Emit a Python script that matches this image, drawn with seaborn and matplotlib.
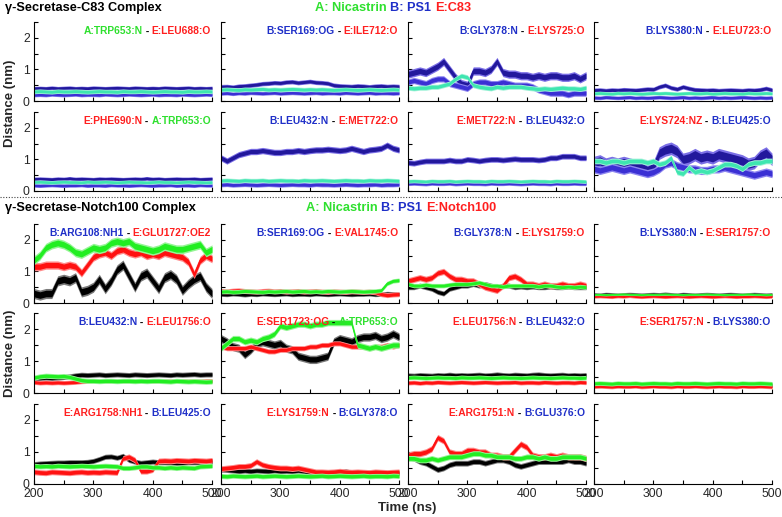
import numpy as np
import pandas as pd
import matplotlib
matplotlib.use("Agg")
import matplotlib.pyplot as plt
import seaborn as sns
from matplotlib.offsetbox import TextArea, HPacker, AnchoredOffsetbox
from matplotlib.ticker import FixedLocator
from matplotlib.lines import Line2D

# ---------------- data (distance in nm, sampled every 10 ns from 200 to 500 ns) ----------------
TIME_START, TIME_END = 200, 500
x_ticks = [200, 300, 400, 500]
y_ticks = [0, 1, 2]

# gamma-Secretase-C83 complex: series = (navy, blue, teal)
c83_1_label = ["A:TRP653:N", "E:LEU688:O"]
c83_1_navy = [0.40,0.41,0.40,0.42,0.40,0.41,0.42,0.40,0.41,0.40, 0.42,0.41,0.40,0.41,0.42,0.41,0.40,0.42,0.41,0.40, 0.41,0.40,0.42,0.41,0.40,0.41,0.42,0.40,0.41,0.40,0.41]
c83_1_blue = [0.19,0.20,0.19,0.21,0.20,0.19,0.20,0.21,0.19,0.20, 0.20,0.19,0.21,0.20,0.19,0.20,0.21,0.20,0.19,0.20, 0.21,0.19,0.20,0.20,0.19,0.21,0.20,0.19,0.20,0.21,0.20]
c83_1_teal = [0.30,0.31,0.30,0.29,0.31,0.30,0.30,0.31,0.30,0.29, 0.30,0.31,0.30,0.30,0.29,0.31,0.30,0.30,0.31,0.30, 0.29,0.30,0.31,0.30,0.30,0.29,0.31,0.30,0.30,0.31,0.30]
c83_1_spread = [0.06, 0.06, 0.07]

c83_2_label = ["B:SER169:OG", "E:ILE712:O"]
c83_2_navy = [0.45,0.46,0.44,0.47,0.48,0.50,0.52,0.55,0.56,0.58, 0.57,0.60,0.61,0.58,0.60,0.62,0.59,0.58,0.56,0.50, 0.48,0.47,0.46,0.48,0.47,0.45,0.47,0.48,0.46,0.47,0.46]
c83_2_blue = [0.24,0.25,0.23,0.25,0.24,0.26,0.25,0.24,0.25,0.26, 0.24,0.25,0.26,0.25,0.24,0.25,0.26,0.24,0.25,0.25, 0.24,0.26,0.25,0.24,0.25,0.26,0.24,0.25,0.25,0.24,0.25]
c83_2_teal = [0.36,0.37,0.36,0.35,0.37,0.36,0.37,0.38,0.36,0.37, 0.36,0.37,0.38,0.37,0.36,0.37,0.36,0.37,0.36,0.35, 0.36,0.37,0.36,0.35,0.36,0.37,0.36,0.35,0.36,0.37,0.36]
c83_2_spread = [0.07, 0.06, 0.07]

c83_3_label = ["B:GLY378:N", "E:LYS725:O"]
c83_3_navy = [0.85,0.90,0.95,0.90,1.00,1.10,1.25,1.00,0.75,0.55, 0.50,0.95,0.95,0.90,1.00,1.25,0.90,0.85,0.85,0.80, 0.80,0.75,0.80,0.75,0.80,0.80,0.75,0.75,0.80,0.70,0.80]
c83_3_blue = [0.60,0.65,0.60,0.55,0.65,0.70,0.70,0.55,0.50,0.45, 0.40,0.55,0.60,0.60,0.55,0.55,0.60,0.55,0.50,0.50, 0.50,0.45,0.35,0.30,0.25,0.25,0.25,0.20,0.25,0.25,0.25]
c83_3_teal = [0.42,0.40,0.42,0.42,0.45,0.45,0.50,0.55,0.70,0.80, 0.75,0.50,0.45,0.42,0.40,0.45,0.42,0.45,0.45,0.45, 0.42,0.40,0.38,0.40,0.38,0.40,0.42,0.40,0.40,0.38,0.42]
c83_3_spread = [0.13, 0.10, 0.08]

c83_4_label = ["B:LYS380:N", "E:LEU723:O"]
c83_4_navy = [0.34,0.35,0.33,0.35,0.34,0.36,0.35,0.34,0.36,0.38, 0.37,0.45,0.50,0.42,0.38,0.45,0.40,0.36,0.35,0.34, 0.35,0.33,0.34,0.35,0.34,0.33,0.35,0.34,0.36,0.40,0.35]
c83_4_blue = [0.11,0.10,0.12,0.11,0.10,0.11,0.12,0.10,0.11,0.10, 0.11,0.12,0.11,0.10,0.11,0.12,0.10,0.11,0.10,0.11, 0.12,0.10,0.11,0.10,0.11,0.12,0.11,0.10,0.11,0.10,0.11]
c83_4_teal = [0.24,0.25,0.24,0.23,0.25,0.24,0.25,0.24,0.23,0.24, 0.25,0.24,0.25,0.24,0.23,0.24,0.25,0.24,0.24,0.25, 0.23,0.24,0.25,0.24,0.24,0.23,0.25,0.24,0.24,0.25,0.24]
c83_4_spread = [0.07, 0.06, 0.06]

c83_5_label = ["E:PHE690:N", "A:TRP653:O"]
c83_5_navy = [0.38,0.39,0.38,0.37,0.39,0.38,0.40,0.38,0.39,0.38, 0.37,0.39,0.38,0.39,0.38,0.37,0.38,0.39,0.38,0.40, 0.38,0.39,0.37,0.38,0.39,0.38,0.38,0.39,0.37,0.38,0.39]
c83_5_blue = [0.18,0.17,0.18,0.19,0.18,0.17,0.18,0.18,0.19,0.17, 0.18,0.18,0.17,0.19,0.18,0.18,0.17,0.18,0.19,0.18, 0.17,0.18,0.18,0.19,0.17,0.18,0.18,0.17,0.19,0.18,0.18]
c83_5_teal = [0.28,0.29,0.28,0.27,0.28,0.29,0.28,0.28,0.27,0.29, 0.28,0.28,0.29,0.28,0.27,0.28,0.29,0.28,0.28,0.27, 0.28,0.29,0.28,0.28,0.27,0.28,0.29,0.28,0.28,0.27,0.28]
c83_5_spread = [0.06, 0.06, 0.06]

c83_6_label = ["B:LEU432:N", "E:MET722:O"]
c83_6_navy = [1.05,0.95,1.05,1.15,1.20,1.25,1.25,1.28,1.25,1.22, 1.22,1.25,1.25,1.28,1.25,1.28,1.30,1.30,1.32,1.30, 1.28,1.30,1.35,1.30,1.25,1.30,1.32,1.35,1.45,1.35,1.30]
c83_6_blue = [0.20,0.21,0.19,0.20,0.21,0.20,0.19,0.20,0.21,0.20, 0.19,0.20,0.21,0.20,0.20,0.19,0.21,0.20,0.20,0.19, 0.20,0.21,0.20,0.19,0.20,0.20,0.21,0.19,0.20,0.20,0.21]
c83_6_teal = [0.33,0.34,0.33,0.32,0.34,0.33,0.33,0.34,0.32,0.33, 0.34,0.33,0.33,0.32,0.34,0.33,0.33,0.34,0.33,0.32, 0.33,0.34,0.33,0.33,0.32,0.34,0.33,0.33,0.34,0.33,0.32]
c83_6_spread = [0.10, 0.07, 0.07]

c83_7_label = ["E:MET722:N", "B:LEU432:O"]
c83_7_navy = [0.90,0.88,0.92,0.95,0.95,0.95,0.95,0.98,0.95,0.95, 1.00,0.98,0.95,0.98,1.00,1.00,0.98,1.00,1.02,1.00, 1.00,1.00,0.98,1.00,1.05,1.05,1.10,1.10,1.10,1.05,1.05]
c83_7_blue = [0.24,0.25,0.24,0.23,0.25,0.24,0.24,0.25,0.23,0.24, 0.25,0.24,0.24,0.23,0.25,0.24,0.24,0.25,0.24,0.23, 0.24,0.25,0.24,0.24,0.23,0.25,0.24,0.24,0.25,0.24,0.24]
c83_7_teal = [0.31,0.32,0.31,0.30,0.32,0.31,0.31,0.32,0.30,0.31, 0.32,0.31,0.31,0.30,0.32,0.31,0.31,0.32,0.31,0.30, 0.31,0.32,0.31,0.31,0.30,0.32,0.31,0.31,0.32,0.31,0.30]
c83_7_spread = [0.09, 0.07, 0.06]

c83_8_label = ["E:LYS724:NZ", "B:LEU425:O"]
c83_8_navy = [0.90,0.95,0.85,0.90,0.85,0.90,0.85,0.80,0.75,0.65, 0.75,1.20,1.30,1.35,1.25,1.00,1.05,1.15,1.05,1.10, 1.05,1.15,1.10,1.05,1.00,0.95,0.85,0.90,1.10,1.20,1.00]
c83_8_blue = [0.70,0.65,0.70,0.75,0.70,0.65,0.70,0.65,0.60,0.55, 0.60,0.70,0.85,0.90,0.80,0.75,0.70,0.70,0.65,0.65, 0.70,0.70,0.75,0.70,0.65,0.60,0.55,0.50,0.55,0.60,0.55]
c83_8_teal = [0.95,0.95,0.90,0.95,0.95,0.90,0.95,0.95,0.95,0.90, 0.95,0.85,0.90,1.05,0.60,0.55,0.75,0.60,0.65,0.60, 0.65,0.75,0.85,0.85,0.80,0.70,0.85,0.90,0.90,0.95,0.95]
c83_8_spread = [0.20, 0.13, 0.09]

# gamma-Secretase-Notch100 complex: series = (black, red, green)
n_1_label = ["B:ARG108:NH1", "E:GLU1727:OE2"]
n_1_black = [0.30,0.25,0.30,0.30,0.70,0.75,0.70,0.80,0.35,0.40, 0.50,0.75,0.45,0.70,1.05,1.20,0.85,0.50,0.85,0.95, 0.70,0.45,0.80,0.90,0.75,0.40,0.60,0.75,0.85,0.50,0.30]
n_1_red = [1.15,1.15,1.20,1.20,1.20,1.15,1.20,1.15,0.95,1.20, 1.45,1.55,1.60,1.50,1.65,1.70,1.60,1.55,1.60,1.50, 1.55,1.50,1.60,1.55,1.50,1.45,1.30,0.90,1.35,1.50,1.40]
n_1_green = [1.35,1.50,1.75,1.85,1.90,1.85,1.75,1.60,1.55,1.65, 1.75,1.70,1.75,1.90,1.95,1.90,1.95,1.80,1.75,1.70, 1.65,1.70,1.80,1.75,1.70,1.70,1.75,1.80,1.85,1.60,1.70]
n_1_spread = [0.16, 0.13, 0.14]

n_2_label = ["B:SER169:OG", "E:VAL1745:O"]
n_2_black = [0.28,0.27,0.29,0.28,0.26,0.28,0.27,0.29,0.28,0.27, 0.28,0.29,0.27,0.28,0.28,0.27,0.29,0.28,0.27,0.28, 0.29,0.28,0.27,0.28,0.28,0.29,0.27,0.28,0.30,0.29,0.28]
n_2_red = [0.38,0.37,0.39,0.40,0.38,0.37,0.36,0.38,0.39,0.37, 0.38,0.36,0.37,0.38,0.36,0.37,0.38,0.36,0.35,0.37, 0.36,0.35,0.37,0.36,0.35,0.36,0.34,0.28,0.25,0.27,0.28]
n_2_green = [0.36,0.37,0.35,0.36,0.38,0.37,0.36,0.35,0.37,0.36, 0.37,0.38,0.36,0.37,0.38,0.36,0.37,0.36,0.38,0.37, 0.36,0.37,0.38,0.37,0.36,0.37,0.38,0.40,0.62,0.70,0.72]
n_2_spread = [0.07, 0.08, 0.07]

n_3_label = ["B:GLY378:N", "E:LYS1759:O"]
n_3_black = [0.50,0.50,0.55,0.50,0.45,0.35,0.30,0.45,0.50,0.55, 0.55,0.60,0.55,0.60,0.55,0.50,0.55,0.55,0.50,0.52, 0.50,0.52,0.50,0.50,0.52,0.50,0.50,0.52,0.50,0.50,0.50]
n_3_red = [0.70,0.75,0.80,0.75,0.80,0.95,1.00,0.85,0.75,0.75, 0.70,0.70,0.60,0.50,0.45,0.40,0.55,0.80,0.85,0.75, 0.60,0.60,0.55,0.60,0.55,0.55,0.60,0.55,0.55,0.60,0.55]
n_3_green = [0.60,0.55,0.55,0.58,0.55,0.55,0.55,0.58,0.60,0.60, 0.60,0.62,0.65,0.60,0.55,0.55,0.52,0.55,0.55,0.55, 0.55,0.55,0.52,0.55,0.55,0.52,0.50,0.52,0.50,0.52,0.50]
n_3_spread = [0.08, 0.10, 0.07]

n_4_label = ["B:LYS380:N", "E:SER1757:O"]
n_4_black = [0.26,0.25,0.27,0.26,0.25,0.26,0.27,0.26,0.25,0.26, 0.27,0.26,0.28,0.26,0.25,0.27,0.26,0.25,0.26,0.27, 0.26,0.25,0.26,0.27,0.26,0.25,0.26,0.27,0.26,0.25,0.26]
n_4_red = [0.22,0.23,0.22,0.21,0.23,0.22,0.24,0.22,0.21,0.22, 0.23,0.22,0.21,0.22,0.23,0.22,0.21,0.22,0.23,0.22, 0.21,0.22,0.23,0.22,0.21,0.22,0.22,0.23,0.22,0.21,0.22]
n_4_green = [0.27,0.27,0.26,0.27,0.27,0.28,0.27,0.27,0.26,0.27, 0.27,0.27,0.28,0.27,0.27,0.26,0.27,0.27,0.27,0.28, 0.27,0.27,0.26,0.27,0.27,0.27,0.28,0.27,0.27,0.26,0.27]
n_4_spread = [0.07, 0.07, 0.035]

n_5_label = ["B:LEU432:N", "E:LEU1756:O"]
n_5_black = [0.46,0.47,0.48,0.47,0.48,0.50,0.52,0.55,0.57,0.56, 0.57,0.58,0.56,0.57,0.58,0.57,0.56,0.58,0.57,0.56, 0.57,0.58,0.57,0.56,0.58,0.57,0.58,0.59,0.57,0.58,0.58]
n_5_red = [0.34,0.32,0.33,0.32,0.33,0.32,0.33,0.34,0.36,0.37, 0.38,0.37,0.38,0.38,0.37,0.38,0.38,0.37,0.38,0.38, 0.37,0.38,0.38,0.37,0.38,0.38,0.37,0.38,0.37,0.38,0.38]
n_5_green = [0.48,0.52,0.54,0.53,0.52,0.53,0.50,0.45,0.40,0.38, 0.38,0.37,0.38,0.38,0.37,0.38,0.38,0.37,0.38,0.37, 0.38,0.38,0.37,0.36,0.38,0.37,0.36,0.37,0.36,0.35,0.36]
n_5_spread = [0.08, 0.07, 0.08]

n_6_label = ["E:SER1723:OG", "A:TRP653:O"]
n_6_black = [1.70,1.60,1.45,1.40,1.20,1.35,1.55,1.60,1.55,1.50, 1.55,1.40,1.35,1.15,1.10,1.05,1.05,1.10,1.15,1.60, 1.70,1.65,1.60,1.70,1.75,1.75,1.80,1.70,1.75,1.85,1.75]
n_6_red = [1.45,1.40,1.40,1.40,1.40,1.45,1.40,1.35,1.30,1.30, 1.35,1.35,1.40,1.40,1.40,1.45,1.45,1.50,1.50,1.55, 1.55,1.50,1.45,1.45,1.45,1.40,1.45,1.45,1.50,1.45,1.50]
n_6_green = [1.40,1.55,1.70,1.70,1.60,1.65,1.60,1.70,1.75,1.85, 2.10,2.05,2.10,2.15,2.15,2.10,2.15,2.15,2.20,2.20, 2.20,2.20,2.20,1.50,1.45,1.40,1.45,1.40,1.45,1.50,1.50]
n_6_spread = [0.13, 0.08, 0.10]

n_7_label = ["E:LEU1756:N", "B:LEU432:O"]
n_7_black = [0.55,0.54,0.56,0.55,0.54,0.56,0.55,0.57,0.55,0.56, 0.55,0.56,0.57,0.55,0.56,0.58,0.56,0.55,0.57,0.56, 0.55,0.57,0.58,0.56,0.55,0.56,0.57,0.55,0.56,0.55,0.56]
n_7_red = [0.32,0.33,0.31,0.33,0.32,0.34,0.33,0.32,0.33,0.34, 0.33,0.32,0.33,0.34,0.33,0.32,0.33,0.33,0.34,0.32, 0.33,0.33,0.32,0.34,0.33,0.32,0.33,0.33,0.32,0.34,0.33]
n_7_green = [0.48,0.49,0.48,0.47,0.48,0.49,0.48,0.48,0.47,0.49, 0.48,0.48,0.49,0.48,0.47,0.48,0.49,0.48,0.48,0.47, 0.48,0.49,0.48,0.48,0.47,0.48,0.49,0.48,0.48,0.47,0.48]
n_7_spread = [0.08, 0.07, 0.07]

n_8_label = ["E:SER1757:N", "B:LYS380:O"]
n_8_black = [0.24,0.23,0.25,0.24,0.23,0.24,0.25,0.24,0.23,0.24, 0.25,0.24,0.23,0.24,0.25,0.24,0.23,0.24,0.25,0.24, 0.23,0.24,0.25,0.24,0.23,0.24,0.24,0.25,0.23,0.24,0.24]
n_8_red = [0.21,0.22,0.21,0.20,0.22,0.21,0.21,0.22,0.20,0.21, 0.22,0.21,0.21,0.20,0.22,0.21,0.21,0.22,0.21,0.20, 0.21,0.22,0.21,0.21,0.20,0.22,0.21,0.21,0.22,0.21,0.20]
n_8_green = [0.30,0.31,0.30,0.29,0.31,0.30,0.30,0.31,0.29,0.30, 0.31,0.30,0.30,0.29,0.31,0.30,0.30,0.31,0.30,0.29, 0.30,0.31,0.30,0.30,0.29,0.31,0.30,0.30,0.31,0.30,0.29]
n_8_spread = [0.07, 0.07, 0.07]

n_9_label = ["E:ARG1758:NH1", "B:LEU425:O"]
n_9_black = [0.62,0.64,0.65,0.66,0.67,0.67,0.68,0.68,0.68,0.69, 0.72,0.78,0.85,0.86,0.82,0.88,0.75,0.70,0.66,0.68, 0.70,0.68,0.68,0.67,0.66,0.66,0.68,0.68,0.68,0.69,0.70]
n_9_red = [0.38,0.36,0.35,0.38,0.37,0.36,0.35,0.37,0.38,0.36, 0.37,0.36,0.38,0.37,0.36,0.80,0.85,0.75,0.40,0.40, 0.45,0.72,0.73,0.72,0.74,0.73,0.72,0.74,0.73,0.72,0.74]
n_9_green = [0.57,0.55,0.56,0.55,0.57,0.56,0.55,0.56,0.57,0.56, 0.55,0.56,0.57,0.56,0.55,0.50,0.50,0.52,0.55,0.55, 0.52,0.52,0.50,0.52,0.50,0.52,0.51,0.50,0.55,0.56,0.57]
n_9_spread = [0.08, 0.09, 0.08]

n_10_label = ["E:LYS1759:N", "B:GLY378:O"]
n_10_black = [0.45,0.44,0.42,0.40,0.42,0.40,0.42,0.41,0.40,0.42, 0.40,0.41,0.40,0.42,0.40,0.36,0.35,0.36,0.34,0.35, 0.36,0.40,0.35,0.34,0.35,0.36,0.34,0.35,0.34,0.35,0.34]
n_10_red = [0.48,0.50,0.52,0.55,0.55,0.58,0.70,0.60,0.55,0.52, 0.50,0.50,0.48,0.50,0.46,0.42,0.38,0.38,0.37,0.38, 0.40,0.38,0.37,0.38,0.37,0.36,0.38,0.37,0.36,0.37,0.38]
n_10_green = [0.25,0.24,0.26,0.25,0.24,0.25,0.26,0.24,0.25,0.26, 0.25,0.24,0.25,0.26,0.25,0.24,0.25,0.26,0.24,0.25, 0.26,0.25,0.24,0.25,0.26,0.24,0.25,0.25,0.24,0.26,0.25]
n_10_spread = [0.08, 0.09, 0.08]

n_11_label = ["E:ARG1751:N", "B:GLU376:O"]
n_11_black = [0.85,0.80,0.70,0.65,0.55,0.45,0.50,0.60,0.65,0.65, 0.65,0.70,0.70,0.65,0.70,0.75,0.75,0.70,0.60,0.55, 0.60,0.65,0.70,0.70,0.70,0.70,0.70,0.75,0.70,0.70,0.65]
n_11_red = [0.90,0.95,0.95,1.00,1.10,1.45,1.35,1.00,0.95,0.95, 1.05,1.05,1.00,1.00,0.90,0.90,0.85,0.85,1.05,1.25, 1.15,0.90,0.85,0.85,0.90,0.85,0.90,0.85,0.85,0.85,0.80]
n_11_green = [0.80,0.80,0.75,0.75,0.80,0.75,0.80,0.85,0.85,0.85, 0.90,0.95,0.95,0.90,0.90,0.85,0.85,0.85,0.80,0.80, 0.85,0.85,0.80,0.85,0.80,0.80,0.85,0.85,0.85,0.85,0.80]
n_11_spread = [0.09, 0.10, 0.09]

# ---------------- styling ----------------
sns.set_theme(style="ticks")
plt.rcParams['font.family'] = ['Liberation Sans', 'DejaVu Sans']
plt.rcParams['axes.linewidth'] = 0.8

TXT = {"A": "#2ee02e", "B": "#1f2fc8", "E": "#ff1f1f"}
C83_COLORS = [("#22189c", "#7b6fe6"), ("#3b30d4", "#8d85f0"), ("#3ee6b0", "#a0f2d8")]
N_COLORS = [("#000000", "#7a7a7a"), ("#ff1111", "#ff8a8a"), ("#22ee22", "#95f595")]

W, H = 782, 517
fig = plt.figure(figsize=(W / 100, H / 100), dpi=100)

col_left = [34, 221, 408, 594]
col_w = 178
c83_rows = [(22, 101), (112, 191)]
n_rows = [(224, 303), (313, 393), (404, 484)]


def make_ax(col, top, bot):
    return fig.add_axes([col_left[col] / W, 1 - bot / H, col_w / W, (bot - top) / H])


def style_ax(ax, show_y, show_x):
    ax.set_xlim(TIME_START, TIME_END)
    ax.set_ylim(0, 2.5)
    ax.xaxis.set_major_locator(FixedLocator(x_ticks))
    ax.xaxis.set_minor_locator(FixedLocator([250, 350, 450]))
    ax.yaxis.set_major_locator(FixedLocator(y_ticks))
    ax.yaxis.set_minor_locator(FixedLocator([0.5, 1.5, 2.5]))
    ax.tick_params(which='both', direction='in', length=3, width=0.8, color='black',
                   top=False, right=False, labelsize=8.8, pad=3,
                   labelleft=show_y, labelbottom=show_x)
    for s in ['top', 'right']:
        ax.spines[s].set_visible(False)
    for s in ['left', 'bottom']:
        ax.spines[s].set_color('black')
        ax.spines[s].set_linewidth(0.8)
    ax.set_xlabel('')
    ax.set_ylabel('')
    ax.set_facecolor('white')


def add_label(ax, parts):
    areas = []
    for i, p in enumerate(parts):
        if i > 0:
            areas.append(TextArea(" - ", textprops=dict(color='black', fontsize=7.4, fontweight='bold')))
        areas.append(TextArea(p, textprops=dict(color=TXT[p[0]], fontsize=7.4, fontweight='bold')))
    box = HPacker(children=areas, align="baseline", pad=0, sep=0)
    ab = AnchoredOffsetbox(loc='upper right', child=box, pad=0, borderpad=0, frameon=False,
                           bbox_to_anchor=(0.995, 0.95), bbox_transform=ax.transAxes)
    ax.add_artist(ab)


def draw_series(ax, vals, spread, core, halo):
    v = np.asarray(vals, float)
    t = np.linspace(TIME_START, TIME_END, len(v))
    ax.fill_between(t, v - spread, v + spread, color=halo, lw=0, zorder=2)
    ax.fill_between(t, v - 0.65 * spread, v + 0.65 * spread, color=core, lw=0, zorder=2)
    df = pd.DataFrame({"t": t, "d": v})
    sns.lineplot(data=df, x="t", y="d", ax=ax, color=core, linewidth=0.8, zorder=2)


c83_panels = [
    (c83_1_label, [c83_1_navy, c83_1_blue, c83_1_teal], c83_1_spread),
    (c83_2_label, [c83_2_navy, c83_2_blue, c83_2_teal], c83_2_spread),
    (c83_3_label, [c83_3_navy, c83_3_blue, c83_3_teal], c83_3_spread),
    (c83_4_label, [c83_4_navy, c83_4_blue, c83_4_teal], c83_4_spread),
    (c83_5_label, [c83_5_navy, c83_5_blue, c83_5_teal], c83_5_spread),
    (c83_6_label, [c83_6_navy, c83_6_blue, c83_6_teal], c83_6_spread),
    (c83_7_label, [c83_7_navy, c83_7_blue, c83_7_teal], c83_7_spread),
    (c83_8_label, [c83_8_navy, c83_8_blue, c83_8_teal], c83_8_spread),
]
n_panels = [
    (n_1_label, [n_1_black, n_1_red, n_1_green], n_1_spread),
    (n_2_label, [n_2_black, n_2_red, n_2_green], n_2_spread),
    (n_3_label, [n_3_black, n_3_red, n_3_green], n_3_spread),
    (n_4_label, [n_4_black, n_4_red, n_4_green], n_4_spread),
    (n_5_label, [n_5_black, n_5_red, n_5_green], n_5_spread),
    (n_6_label, [n_6_black, n_6_red, n_6_green], n_6_spread),
    (n_7_label, [n_7_black, n_7_red, n_7_green], n_7_spread),
    (n_8_label, [n_8_black, n_8_red, n_8_green], n_8_spread),
    (n_9_label, [n_9_black, n_9_red, n_9_green], n_9_spread),
    (n_10_label, [n_10_black, n_10_red, n_10_green], n_10_spread),
    (n_11_label, [n_11_black, n_11_red, n_11_green], n_11_spread),
    None,
]

for i, (label, series, spreads) in enumerate(c83_panels):
    r, c = divmod(i, 4)
    ax = make_ax(c, *c83_rows[r])
    for vals, sp, (core, halo) in zip(series, spreads, C83_COLORS):
        draw_series(ax, vals, sp, core, halo)
    style_ax(ax, show_y=(c == 0), show_x=False)
    add_label(ax, label)

for i, panel in enumerate(n_panels):
    r, c = divmod(i, 4)
    ax = make_ax(c, *n_rows[r])
    if panel is not None:
        label, series, spreads = panel
        for vals, sp, (core, halo) in zip(series, spreads, N_COLORS):
            draw_series(ax, vals, sp, core, halo)
        add_label(ax, label)
    style_ax(ax, show_y=(c == 0), show_x=(r == 2))

# ---------------- headers & labels ----------------
def header(y_px, left_text, parts, cx_px):
    fig.text(5 / W, 1 - y_px / H, left_text, ha='left', va='center',
             fontsize=9.2, fontweight='bold', color='black')
    areas = []
    for txt, key in parts:
        areas.append(TextArea(txt, textprops=dict(color=TXT[key], fontsize=9.2, fontweight='bold')))
    box = HPacker(children=areas, align="baseline", pad=0, sep=0)
    ab = AnchoredOffsetbox(loc='center', child=box, pad=0, borderpad=0, frameon=False,
                           bbox_to_anchor=(cx_px / W, 1 - y_px / H), bbox_transform=fig.transFigure)
    fig.add_artist(ab)


header(8, "γ-Secretase-C83 Complex",
       [("A: Nicastrin ", "A"), ("B: PS1 ", "B"), ("E:C83", "E")], 393)
header(208, "γ-Secretase-Notch100 Complex",
       [("A: Nicastrin ", "A"), ("B: PS1 ", "B"), ("E:Notch100", "E")], 401)

fig.add_artist(Line2D([0, 1], [1 - 197 / H, 1 - 197 / H], transform=fig.transFigure,
                      color='#444444', lw=0.8, ls=(0, (1, 1.5))))

fig.text(10 / W, 1 - 103 / H, "Distance (nm)", rotation=90, ha='center', va='center',
         fontsize=9.5, fontweight='bold')
fig.text(10 / W, 1 - 353 / H, "Distance (nm)", rotation=90, ha='center', va='center',
         fontsize=9.5, fontweight='bold')
fig.text(407 / W, 1 - 508 / H, "Time (ns)", ha='center', va='center',
         fontsize=9.5, fontweight='bold')

fig.savefig("out.png", dpi=100, facecolor='white')
